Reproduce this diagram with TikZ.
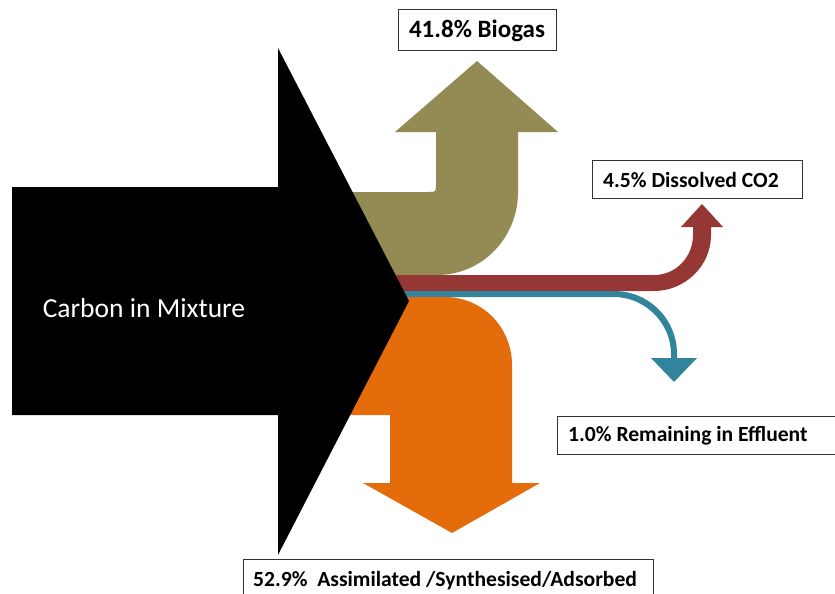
\documentclass[tikz,border=0pt]{standalone}
\usepackage{fontspec}
\setmainfont{Carlito}
\definecolor{olivec}{HTML}{948A54}
\definecolor{redc}{HTML}{953735}
\definecolor{tealc}{HTML}{31849B}
\definecolor{orangec}{HTML}{E46C0A}
\tikzset{
  flow/.style={draw=none},
  labelbox/.style={draw=black!80, line width=1pt, fill=white},
  labeltext/.style={font=\bfseries\fontsize{21.6}{25}\selectfont, inner sep=0pt, anchor=west},
}
\begin{document}
\begin{tikzpicture}[x=1pt,y=-1pt]
\useasboundingbox (0,0) rectangle (835,594);
\clip (0,0) rectangle (835,594);
% olive (biogas)
\fill[olivec] (340,192) -- (428,192) .. controls (436,192) .. (436,184) -- (436,132) -- (395,132) -- (477,61) -- (558,132) -- (518,132) -- (518,192)
  .. controls (518,238) and (482,275) .. (437,275) -- (340,275) -- cycle;
% red (dissolved CO2)
\fill[redc] (340,275) -- (654,275) .. controls (676,275) and (693,257) .. (693,235) -- (693,227) -- (681,227) -- (702,204) -- (723,227) -- (711,227) -- (711,235)
  .. controls (711,266) and (685,291) .. (654,291) -- (340,291) -- cycle;
% teal (effluent)
\fill[tealc] (340,291) -- (614,291) .. controls (649,291) and (677,319) .. (677,354) -- (677,358) -- (697,358) -- (674,382) -- (651,358) -- (671,358) -- (671,354)
  .. controls (671,323) and (645,297) .. (614,297) -- (340,297) -- cycle;
% orange (assimilated)
\fill[orangec] (340,297) -- (445,297) .. controls (482,297) and (512,327) .. (512,365) -- (512,483) -- (540,483) -- (452,533) -- (363,483) -- (390,483) -- (390,415) -- (340,415) -- cycle;
% black input arrow
\fill[black] (12,187) -- (278,187) -- (278,48) -- (409,301) -- (278,555) -- (278,415) -- (12,415) -- cycle;
\node[text=white, font=\fontsize{27.5}{32}\selectfont, inner sep=0pt] (carbon) at (144,308) {Carbon in Mixture};
% label boxes
\draw[labelbox] (398,10) rectangle (556,51);
\node[labeltext, font=\bfseries\fontsize{25}{29}\selectfont, anchor=center] (biogas) at (477,31) {41.8\% Biogas};
\draw[labelbox] (592,160) rectangle (802,198);
\node[labeltext] (co2) at (603,180) {4.5\% Dissolved CO2};
\draw[labelbox] (557,416) rectangle (850,454);
\node[labeltext] (effluent) at (568,436) {1.0\% Remaining in Effluent};
\draw[labelbox] (243,559) rectangle (653,610);
\node[labeltext] (assim) at (253,581) {52.9\%\ \ Assimilated /Synthesised/Adsorbed};
\end{tikzpicture}
\end{document}
